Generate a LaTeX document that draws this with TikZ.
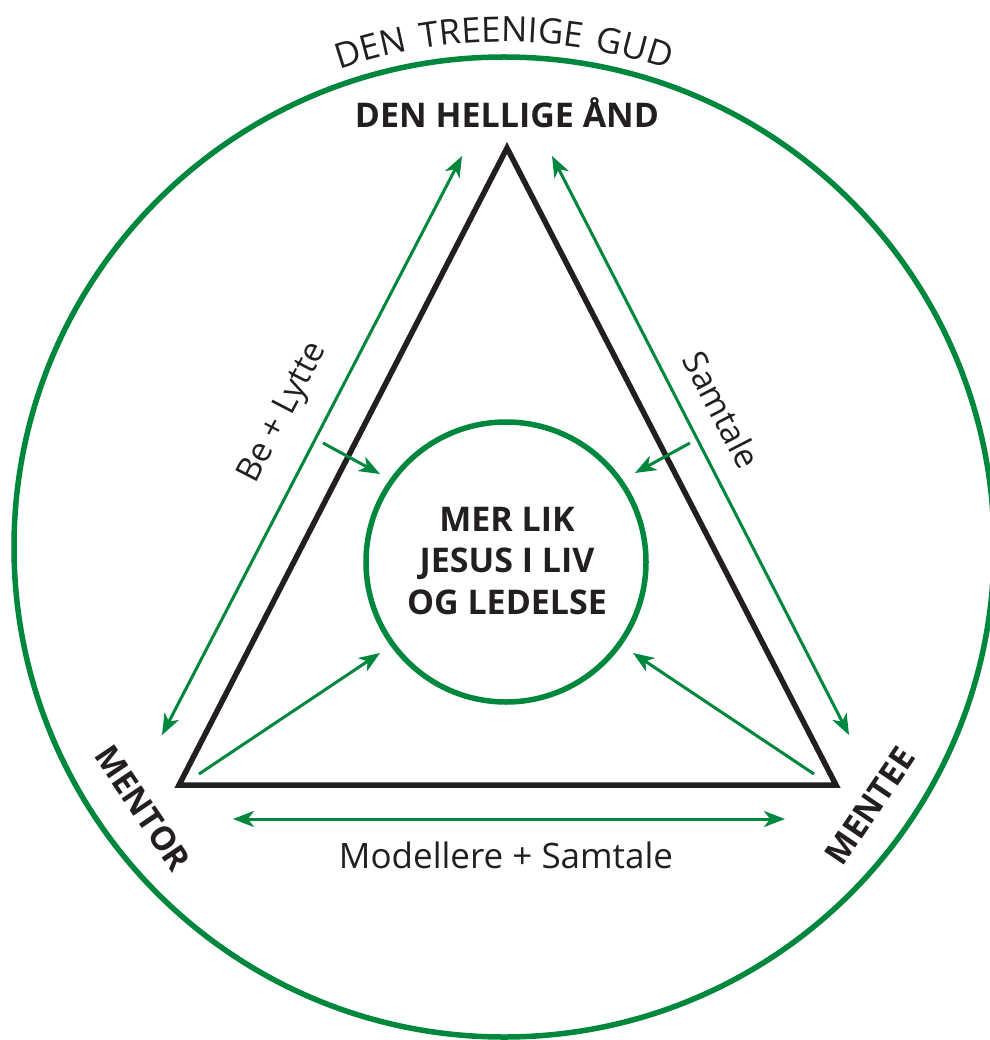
\documentclass[tikz,border=0pt]{standalone}
\usepackage{fontspec}
\setmainfont{Open Sans}
\newfontfamily\arcfont[LetterSpace=12]{Open Sans}
\usetikzlibrary{arrows.meta,decorations.text}
\definecolor{grn}{RGB}{0,135,62}
\definecolor{blk}{RGB}{35,31,32}
\begin{document}
\begin{tikzpicture}[x=1pt,y=1pt,
  ring/.style={draw=grn,line width=5.5pt},
  tri/.style={draw=blk,line width=5.5pt,line join=miter},
  garrow/.style={draw=grn,line width=3pt,-{Stealth[length=21pt,width=16pt,inset=6pt]}},
  gdouble/.style={draw=grn,line width=3pt,{Stealth[length=21pt,width=16pt,inset=6pt]}-{Stealth[length=21pt,width=16pt,inset=6pt]}},
  btext/.style={text=blk,font=\bfseries\fontsize{33}{33}\selectfont,inner sep=0pt},
  ltext/.style={text=blk,font=\fontsize{33.5}{33.5}\selectfont,inner sep=0pt}]
\useasboundingbox (0,0) rectangle (989,-1040);
% outer circle
\node[circle,ring,minimum size=980pt,inner sep=0pt] (outer) at (504,-547) {};
% triangle
\coordinate (A) at (507,-148);
\coordinate (B) at (179,-785);
\coordinate (C) at (836,-785);
\draw[tri] (A) -- (B) -- (C) -- cycle;
% inner circle
\node[circle,ring,minimum size=280pt,inner sep=0pt] (inner) at (506,-562) {};
\node[btext,align=center,font=\bfseries\fontsize{34}{41.5}\selectfont] (center) at (507,-561) {MER LIK\\JESUS I LIV\\OG LEDELSE};
% labels
\node[btext,anchor=base,font=\bfseries\fontsize{34}{34}\selectfont] (spirit) at (507,-128) {DEN HELLIGE ÅND};
\node[ltext,anchor=base,font=\fontsize{35}{35}\selectfont] (model) at (506,-868) {Modellere + Samtale};
\node[ltext,rotate=62.6] (be) at (284,-413) {Be + Lytte};
\node[ltext,rotate=-62.6] (sam) at (722,-410) {Samtale};
\node[btext,rotate=-56] (mentor) at (143,-808) {MENTOR};
\node[btext,rotate=56] (mentee) at (870,-806) {MENTEE};
% curved title
\path[decorate,decoration={text along path,text align=center,
  text={|\arcfont\fontsize{35}{35}\selectfont\color{blk}|DEN TREENIGE GUD}}]
  (504,-547) ++(130:505) arc (130:50:505);
% arrow coordinates
\coordinate (l1) at (162,-735); \coordinate (l2) at (462,-156);
\coordinate (r1) at (552,-156); \coordinate (r2) at (849,-735);
\coordinate (b1) at (233,-819); \coordinate (b2) at (785,-819);
\coordinate (ul) at (323,-443); \coordinate (ult) at (380,-474);
\coordinate (ur) at (690,-443); \coordinate (urt) at (635,-473);
\coordinate (ll) at (199,-774); \coordinate (llt) at (380,-653);
\coordinate (lr) at (814,-774); \coordinate (lrt) at (633,-653);
\draw[gdouble] (l1) -- (l2);
\draw[gdouble] (r1) -- (r2);
\draw[gdouble] (b1) -- (b2);
\draw[garrow] (ul) -- (ult);
\draw[garrow] (ur) -- (urt);
\draw[garrow] (ll) -- (llt);
\draw[garrow] (lr) -- (lrt);
\end{tikzpicture}
\end{document}
